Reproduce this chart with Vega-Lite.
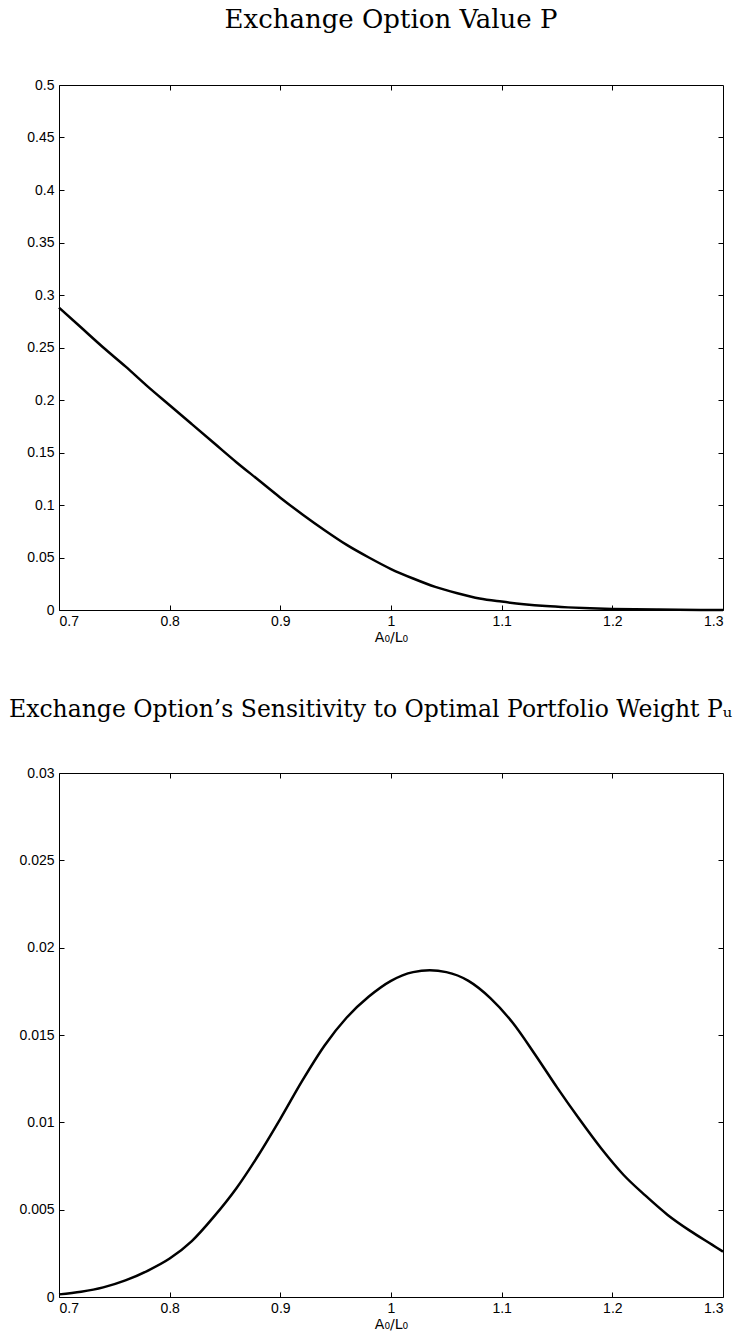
{
  "$schema": "https://vega.github.io/schema/vega-lite/v6.json",
  "background": "white",
  "padding": {"left": 8, "top": 6, "right": 0, "bottom": 0},
  "spacing": 52,
  "config": {
    "view": {"stroke": "black", "strokeWidth": 1},
    "font": "Liberation Sans",
    "axis": {
      "domain": false,
      "grid": false,
      "tickColor": "black",
      "tickSize": -5,
      "tickWidth": 1,
      "labelColor": "black",
      "labelFont": "Liberation Sans",
      "labelFontSize": 14,
      "titleFont": "DejaVu Sans",
      "titleFontSize": 14,
      "titleFontWeight": "normal",
      "titleColor": "black"
    },
    "title": {"font": "DejaVu Serif", "fontSize": 26, "fontWeight": "normal", "color": "black", "anchor": "middle", "frame": "group", "offset": 45}
  },
  "datasets": {
    "p": [
      {"x": 0.70, "y": 0.288}, {"x": 0.72, "y": 0.269}, {"x": 0.74, "y": 0.250}, {"x": 0.76, "y": 0.232},
      {"x": 0.78, "y": 0.213}, {"x": 0.80, "y": 0.195}, {"x": 0.82, "y": 0.177}, {"x": 0.84, "y": 0.159},
      {"x": 0.86, "y": 0.141}, {"x": 0.88, "y": 0.124}, {"x": 0.90, "y": 0.107}, {"x": 0.92, "y": 0.091},
      {"x": 0.94, "y": 0.076}, {"x": 0.96, "y": 0.062}, {"x": 0.98, "y": 0.050}, {"x": 1.00, "y": 0.039},
      {"x": 1.02, "y": 0.030}, {"x": 1.04, "y": 0.022}, {"x": 1.06, "y": 0.016}, {"x": 1.08, "y": 0.011},
      {"x": 1.10, "y": 0.008}, {"x": 1.12, "y": 0.0055}, {"x": 1.14, "y": 0.0037}, {"x": 1.16, "y": 0.0025},
      {"x": 1.18, "y": 0.0016}, {"x": 1.20, "y": 0.001}, {"x": 1.22, "y": 0.0006}, {"x": 1.24, "y": 0.0004},
      {"x": 1.26, "y": 0.0002}, {"x": 1.28, "y": 0.0001}, {"x": 1.30, "y": 0.0001}
    ],
    "pu": [
      {"x": 0.70, "y": 0.00015}, {"x": 0.72, "y": 0.0003}, {"x": 0.74, "y": 0.00055}, {"x": 0.76, "y": 0.00095},
      {"x": 0.78, "y": 0.0015}, {"x": 0.80, "y": 0.0022}, {"x": 0.82, "y": 0.0032}, {"x": 0.84, "y": 0.0046},
      {"x": 0.86, "y": 0.0062}, {"x": 0.88, "y": 0.0081}, {"x": 0.90, "y": 0.0102}, {"x": 0.92, "y": 0.0124},
      {"x": 0.94, "y": 0.0144}, {"x": 0.96, "y": 0.0160}, {"x": 0.98, "y": 0.0172}, {"x": 1.00, "y": 0.0181},
      {"x": 1.02, "y": 0.0186}, {"x": 1.035, "y": 0.0187}, {"x": 1.05, "y": 0.0186}, {"x": 1.07, "y": 0.0181},
      {"x": 1.09, "y": 0.0171}, {"x": 1.11, "y": 0.0157}, {"x": 1.13, "y": 0.0139}, {"x": 1.15, "y": 0.0120},
      {"x": 1.17, "y": 0.0102}, {"x": 1.19, "y": 0.0085}, {"x": 1.21, "y": 0.0070}, {"x": 1.23, "y": 0.0058},
      {"x": 1.25, "y": 0.0047}, {"x": 1.27, "y": 0.0038}, {"x": 1.29, "y": 0.0030}, {"x": 1.30, "y": 0.0026}
    ]
  },
  "vconcat": [
    {
      "title": "Exchange Option Value P",
      "width": 664,
      "height": 525,
      "data": {"name": "p"},
      "resolve": {"axis": {"x": "independent", "y": "independent"}},
      "layer": [
        {
          "mark": {"type": "line", "color": "black", "strokeWidth": 2.5, "interpolate": "monotone"},
          "encoding": {
            "x": {"field": "x", "type": "quantitative", "scale": {"domain": [0.7, 1.3], "nice": false, "zero": false},
                  "axis": {"orient": "bottom", "values": [0.7, 0.8, 0.9, 1.0, 1.1, 1.2, 1.3], "format": ".1~f", "labelPadding": 9, "title": "A₀/L₀", "titlePadding": 2}},
            "y": {"field": "y", "type": "quantitative", "scale": {"domain": [0, 0.5], "nice": false},
                  "axis": {"orient": "left", "values": [0, 0.05, 0.1, 0.15, 0.2, 0.25, 0.3, 0.35, 0.4, 0.45, 0.5], "format": ".2~f", "labelPadding": 10, "title": null}}
          }
        },
        {
          "mark": {"type": "line", "strokeOpacity": 0},
          "encoding": {
            "x": {"field": "x", "type": "quantitative", "axis": {"orient": "top", "values": [0.8, 0.9, 1.0, 1.1, 1.2], "labels": false, "title": null}},
            "y": {"field": "y", "type": "quantitative", "axis": {"orient": "right", "values": [0.05, 0.1, 0.15, 0.2, 0.25, 0.3, 0.35, 0.4, 0.45], "labels": false, "title": null}}
          }
        }
      ]
    },
    {
      "title": {"text": "Exchange Option’s Sensitivity to Optimal Portfolio Weight Pᵤ", "fontSize": 23.5, "anchor": "start", "frame": "group", "dx": -50},
      "width": 664,
      "height": 524,
      "data": {"name": "pu"},
      "resolve": {"axis": {"x": "independent", "y": "independent"}},
      "layer": [
        {
          "mark": {"type": "line", "color": "black", "strokeWidth": 2.5, "interpolate": "monotone"},
          "encoding": {
            "x": {"field": "x", "type": "quantitative", "scale": {"domain": [0.7, 1.3], "nice": false, "zero": false},
                  "axis": {"orient": "bottom", "values": [0.7, 0.8, 0.9, 1.0, 1.1, 1.2, 1.3], "format": ".1~f", "labelPadding": 9, "title": "A₀/L₀", "titlePadding": 2}},
            "y": {"field": "y", "type": "quantitative", "scale": {"domain": [0, 0.03], "nice": false},
                  "axis": {"orient": "left", "values": [0, 0.005, 0.01, 0.015, 0.02, 0.025, 0.03], "format": ".3~f", "labelPadding": 10, "title": null}}
          }
        },
        {
          "mark": {"type": "line", "strokeOpacity": 0},
          "encoding": {
            "x": {"field": "x", "type": "quantitative", "axis": {"orient": "top", "values": [0.8, 0.9, 1.0, 1.1, 1.2], "labels": false, "title": null}},
            "y": {"field": "y", "type": "quantitative", "axis": {"orient": "right", "values": [0.005, 0.01, 0.015, 0.02, 0.025], "labels": false, "title": null}}
          }
        }
      ]
    }
  ]
}
